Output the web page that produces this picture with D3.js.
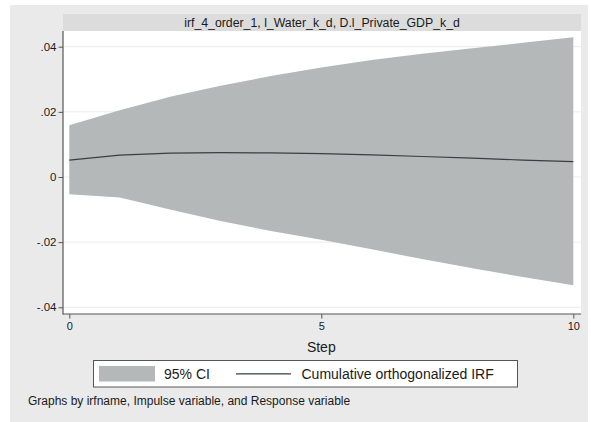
<!DOCTYPE html>
<html>
<head>
<meta charset="utf-8">
<script src="https://cdn.jsdelivr.net/npm/d3@7"></script>
<style>
  html, body { margin: 0; padding: 0; background: #ffffff; }
  svg { display: block; font-family: "Liberation Sans", Arial, Helvetica, sans-serif; }
</style>
</head>
<body>
<svg id="chart" width="591" height="422"></svg>
<script>
// Impulse response: step, cumulative orthogonalized IRF and its 95% band
const steps   = [0, 1, 2, 3, 4, 5, 6, 7, 8, 9, 10];
const irf     = [0.0052, 0.0067, 0.0073, 0.0075, 0.0074, 0.0072, 0.0068, 0.0063, 0.0058, 0.0052, 0.0047];
const ciUpper = [0.0159, 0.0205, 0.0246, 0.0280, 0.0310, 0.0336, 0.0359, 0.0378, 0.0395, 0.0412, 0.0429];
const ciLower = [-0.0053, -0.0063, -0.0100, -0.0135, -0.0166, -0.0193, -0.0222, -0.0252, -0.0280, -0.0307, -0.0332];

const yTicks = [-0.04, -0.02, 0, 0.02, 0.04];
const xTicks = [0, 5, 10];

const panelTitle  = "irf_4_order_1, l_Water_k_d, D.l_Private_GDP_k_d";
const xAxisTitle  = "Step";
const legendLabels = ["95% CI", "Cumulative orthogonalized IRF"];
const note = "Graphs by irfname, Impulse variable, and Response variable";

const svg = d3.select("#chart");

// plot region
const P = { left: 63, right: 581, top: 31, bottom: 314 };

const x = d3.scaleLinear().domain([0, 10]).range([69.3, 573.3]);
const y = d3.scaleLinear().domain([-0.04, 0.04]).range([307.3, 46.7]);

const fmt = v => {
  if (v === 0) return "0";
  const s = Math.abs(v).toString().replace(/^0/, "");
  return (v < 0 ? "-" : "") + s;
};

// graph background
svg.append("rect").attr("x", 10).attr("y", 5).attr("width", 578).attr("height", 417)
  .attr("fill", "#eaeaea");

// plot area
svg.append("rect").attr("x", P.left).attr("y", P.top)
  .attr("width", P.right - P.left).attr("height", P.bottom - P.top)
  .attr("fill", "#ffffff");

// panel title strip
svg.append("rect").attr("x", P.left).attr("y", 14)
  .attr("width", P.right - P.left).attr("height", P.top - 14)
  .attr("fill", "#dcdcdc");
svg.append("text").attr("x", (P.left + P.right) / 2).attr("y", 26.5)
  .attr("text-anchor", "middle").attr("font-size", 12.3).attr("fill", "#1a1a1a")
  .text(panelTitle);

// gridlines
svg.append("g").selectAll("line").data(yTicks).join("line")
  .attr("x1", P.left).attr("x2", P.right)
  .attr("y1", d => y(d)).attr("y2", d => y(d))
  .attr("stroke", "#ececec").attr("stroke-width", 1);

// confidence band
const band = d3.area()
  .x((d, i) => x(steps[i]))
  .y0((d, i) => y(ciLower[i]))
  .y1((d, i) => y(ciUpper[i]));
svg.append("path").datum(steps).attr("d", band).attr("fill", "#b5b8b8");

// IRF line
const line = d3.line().x((d, i) => x(steps[i])).y((d, i) => y(irf[i]));
svg.append("path").datum(steps).attr("d", line)
  .attr("fill", "none").attr("stroke", "#3a3e40").attr("stroke-width", 1.2);

// axes
const yAxis = d3.axisLeft(y).tickValues(yTicks).tickFormat(fmt).tickSize(4.5).tickPadding(2);
const gy = svg.append("g").attr("transform", `translate(${P.left},0)`).call(yAxis);
gy.select(".domain").remove();
gy.selectAll("line").attr("stroke", "#555555");
gy.selectAll("text").attr("font-size", 11.5).attr("fill", "#1a1a1a").attr("font-family", null);

const xAxis = d3.axisBottom(x).tickValues(xTicks).tickFormat(d3.format("d")).tickSize(4.5).tickPadding(3.5);
const gx = svg.append("g").attr("transform", `translate(0,${P.bottom})`).call(xAxis);
gx.select(".domain").remove();
gx.selectAll("line").attr("stroke", "#555555");
gx.selectAll("text").attr("font-size", 11).attr("fill", "#1a1a1a").attr("font-family", null);

svg.append("line").attr("x1", P.left).attr("x2", P.left).attr("y1", P.top).attr("y2", P.bottom + 0.5)
  .attr("stroke", "#555555").attr("stroke-width", 1.2);
svg.append("line").attr("x1", P.left).attr("x2", P.right).attr("y1", P.bottom).attr("y2", P.bottom)
  .attr("stroke", "#555555").attr("stroke-width", 1.2);

// x-axis title
svg.append("text").attr("x", x(5)).attr("y", 351.5).attr("text-anchor", "middle")
  .attr("font-size", 14).attr("fill", "#1a1a1a").text(xAxisTitle);

// legend
const lg = svg.append("g");
lg.append("rect").attr("x", 93.5).attr("y", 360.5).attr("width", 424).attr("height", 26.5)
  .attr("fill", "#ffffff").attr("stroke", "#555555").attr("stroke-width", 1);
lg.append("rect").attr("x", 99).attr("y", 366).attr("width", 56).attr("height", 15.5)
  .attr("fill", "#b5b8b8");
lg.append("text").attr("x", 164).attr("y", 379).attr("font-size", 14).attr("fill", "#1a1a1a")
  .text(legendLabels[0]);
lg.append("line").attr("x1", 236).attr("x2", 291).attr("y1", 373.8).attr("y2", 373.8)
  .attr("stroke", "#3a3e40").attr("stroke-width", 1.2);
lg.append("text").attr("x", 301.5).attr("y", 379).attr("font-size", 14).attr("fill", "#1a1a1a")
  .text(legendLabels[1]);

// note
svg.append("text").attr("x", 28).attr("y", 404.5).attr("font-size", 12).attr("fill", "#1a1a1a")
  .text(note);
</script>
</body>
</html>
